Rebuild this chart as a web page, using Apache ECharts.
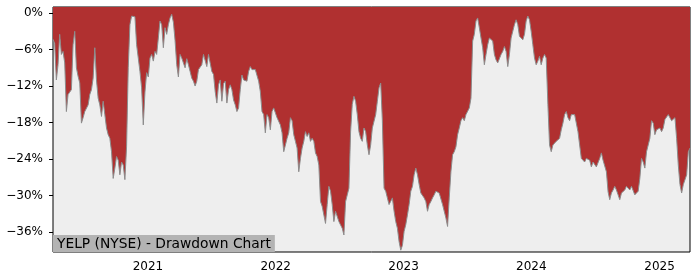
<!DOCTYPE html>
<html><head><meta charset="utf-8">
<script src="https://cdn.jsdelivr.net/npm/echarts@6/dist/echarts.min.js"></script>
<style>html,body{margin:0;padding:0;background:#fff}#c{width:700px;height:280px}</style>
</head><body><div id="c"></div>
<script>
const chartTitle = 'YELP (NYSE) - Drawdown Chart';
const firstDate = '2020-04-05';
const lastDate = '2025-03-29';
// drawdown in %, sampled evenly from firstDate to lastDate
const drawdown = [
-4.3,-5.0,-11.0,-8.5,-3.5,-6.8,-6.3,-8.2,-16.2,-13.4,-13.0,-12.6,-5.2,-3.0,-9.0,-10.4,-11.5,-18.1,-17.2,-16.2,-16.4,-15.1,-13.4,-12.6,-10.7,-5.7,-11.0,-14.0,-15.1,-17.0,-14.5,-16.7,-18.9,-20.0,-20.6,-22.8,-27.2,-25.5,-23.6,-24.2,-26.6,-24.5,-25.0,-27.4,-22.0,-9.0,-1.9,-0.5,-0.2,-0.6,-5.2,-7.4,-9.6,-12.3,-18.4,-13.0,-9.8,-10.5,-7.4,-6.8,-7.9,-6.3,-6.8,-4.1,
-1.3,-1.9,-5.7,-2.4,-3.5,-1.9,-0.8,-0.2,-1.5,-4.5,-8.5,-10.5,-6.8,-7.4,-7.7,-9.0,-7.5,-8.5,-9.6,-10.7,-11.2,-12.0,-11.2,-9.3,-9.6,-8.5,-6.8,-6.8,-8.8,-6.8,-6.8,-9.6,-10.1,-12.9,-14.8,-11.8,-11.0,-14.5,-11.6,-11.2,-14.8,-12.6,-11.8,-12.6,-14.3,-15.1,-16.2,-15.6,-12.6,-10.2,-11.0,-11.0,-11.2,-9.6,-8.8,-9.3,-9.6,-9.3,-9.6,-11.2,-12.9,-16.2,-16.7,-19.7,
-16.7,-17.2,-19.2,-16.2,-15.6,-15.6,-17.2,-17.5,-18.4,-19.7,-22.8,-21.7,-20.6,-19.7,-17.2,-17.7,-20.0,-21.1,-22.2,-26.1,-23.9,-22.2,-21.1,-19.5,-20.3,-19.7,-21.1,-20.6,-21.1,-23.0,-23.6,-25.0,-31.0,-31.8,-31.5,-34.6,-31.5,-28.5,-29.3,-31.5,-34.3,-32.6,-32.9,-34.3,-34.0,-35.4,-36.5,-31.0,-29.9,-28.8,-19.5,-15.0,-13.7,-14.5,-16.7,-19.5,-20.6,-21.1,-18.9,-19.5,-21.7,-23.3,-21.7,-18.9,
-18.9,-16.7,-14.5,-12.3,-11.5,-17.7,-28.8,-29.3,-30.4,-31.5,-31.8,-30.4,-32.6,-34.3,-35.4,-37.6,-39.0,-38.2,-35.9,-34.8,-33.2,-31.5,-29.3,-28.5,-26.6,-25.5,-26.6,-28.2,-29.6,-29.9,-30.4,-31.0,-32.6,-31.5,-31.0,-30.4,-29.9,-29.3,-29.3,-29.6,-29.9,-31.5,-32.6,-33.7,-35.1,-30.4,-26.1,-23.3,-22.8,-22.0,-20.0,-18.9,-17.7,-17.2,-17.7,-16.7,-16.4,-15.6,-14.0,-4.6,-3.5,-1.3,-0.8,-2.4,
-4.1,-5.7,-8.5,-6.8,-5.2,-4.1,-3.8,-4.6,-6.8,-7.7,-8.2,-7.9,-6.8,-6.3,-5.5,-6.3,-8.8,-6.8,-4.1,-3.0,-1.9,-1.1,-1.9,-3.8,-4.1,-4.4,-3.5,-1.3,-0.5,-1.1,-3.0,-5.2,-7.4,-8.5,-7.9,-7.1,-8.5,-7.4,-6.8,-7.4,-15.0,-21.7,-22.8,-21.7,-21.4,-21.1,-21.4,-20.6,-19.2,-18.1,-16.7,-16.2,-17.2,-17.7,-16.7,-16.4,-16.7,-16.4,-19.5,-21.7,-23.9,-24.2,-24.5,-23.9,
-23.6,-24.2,-25.3,-24.5,-24.5,-25.3,-25.5,-23.9,-23.0,-24.2,-24.5,-26.1,-29.4,-30.7,-29.6,-29.1,-28.5,-29.1,-29.9,-30.7,-29.6,-29.3,-29.1,-28.5,-28.8,-29.1,-28.5,-28.8,-29.9,-30.2,-29.3,-27.2,-23.9,-24.5,-25.5,-22.8,-21.7,-20.6,-17.7,-18.1,-20.0,-19.2,-19.5,-18.9,-19.5,-18.9,-17.5,-17.7,-16.7,-17.0,-17.7,-17.5,-17.2,-20.6,-25.0,-28.2,-29.6,-28.2,-28.0,-26.6,-22.8,-22.2
];
const yTickValues = [0, -6, -12, -18, -24, -30, -36];
const yTickLabels = ['0%', '\u22126%', '\u221212%', '\u221218%', '\u221224%', '\u221230%', '\u221236%'];
const xTickYears = [2021, 2022, 2023, 2024, 2025];
const yMin = -39.3, yMax = 1.0;

const t0 = Date.parse(firstDate + 'T00:00:00Z');
const t1 = Date.parse(lastDate + 'T00:00:00Z');
const step = (t1 - t0) / (drawdown.length - 1);
const seriesData = drawdown.map((v, i) => [t0 + i * step, v]);
const xTickValues = xTickYears.map(y => Date.UTC(y, 0, 1));

const FONT = 'DejaVu Sans';
const chart = echarts.init(document.getElementById('c'), null, {renderer: 'canvas'});
chart.setOption({
  animation: false,
  grid: {left: 53, right: 10, top: 7, bottom: 28, show: true, borderColor: '#000', borderWidth: 1, backgroundColor: '#eeeeee'},
  xAxis: {
    type: 'value', min: t0, max: t1,
    splitLine: {show: false},
    axisLine: {show: false},
    axisTick: {show: true, length: 4, lineStyle: {color: '#000'}, customValues: xTickValues},
    axisLabel: {customValues: xTickValues, color: '#000', fontFamily: FONT, fontSize: 12, margin: 9,
      formatter: v => String(new Date(v).getUTCFullYear())}
  },
  yAxis: {
    type: 'value', min: yMin, max: yMax,
    splitLine: {show: false},
    axisLine: {show: false},
    axisTick: {show: true, length: 4, lineStyle: {color: '#000'}, customValues: yTickValues},
    axisLabel: {customValues: yTickValues, color: '#000', fontFamily: FONT, fontSize: 12, margin: 10,
      formatter: v => { const i = yTickValues.findIndex(t => Math.abs(t - v) < 1e-6); return i >= 0 ? yTickLabels[i] : ''; }}
  },
  series: [{
    type: 'line', data: seriesData, showSymbol: false, symbol: 'none',
    lineStyle: {color: '#8c8c8c', width: 1},
    areaStyle: {origin: 'end', color: '#b03030', opacity: 1},
    z: 2
  }],
  graphic: [{
    type: 'text', left: 53, bottom: 28, z: 10,
    style: {text: chartTitle, font: '13.8px "DejaVu Sans"', fill: '#000', backgroundColor: '#b3b3b3', padding: [2, 4, 1, 4]}
  }]
});
</script></body></html>
